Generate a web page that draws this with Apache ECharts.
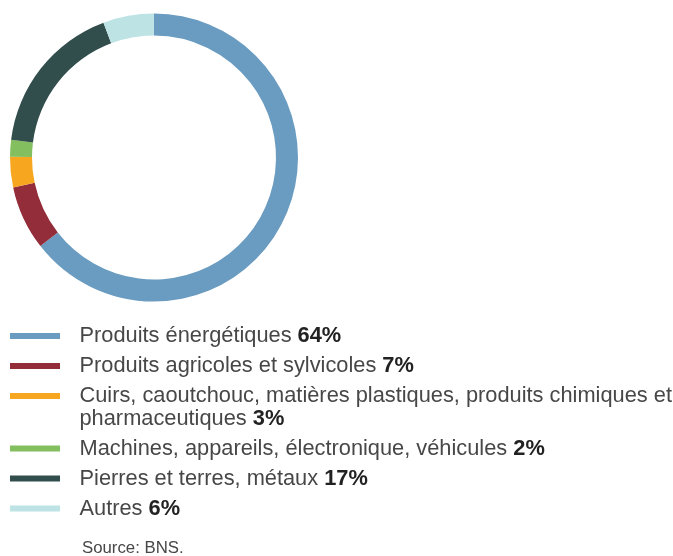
<!DOCTYPE html>
<html>
<head>
<meta charset="utf-8">
<script src="https://cdn.jsdelivr.net/npm/echarts@6/dist/echarts.min.js"></script>
<style>
html,body{margin:0;padding:0;background:#fff;}
#c{width:673px;height:556px;}
</style>
</head>
<body>
<div id="c"></div>
<script>
// Data
const categories = [
  'Produits énergétiques',
  'Produits agricoles et sylvicoles',
  'Cuirs, caoutchouc, matières plastiques, produits chimiques et\npharmaceutiques',
  'Machines, appareils, électronique, véhicules',
  'Pierres et terres, métaux',
  'Autres'
];
const shares = [64.4, 7.2, 3.4, 1.9, 17.3, 5.7];
const shareLabels = ['64%', '7%', '3%', '2%', '17%', '6%'];
const colors = ['#6a9bc0', '#942d3a', '#f6a61f', '#84bf5f', '#324e4c', '#bde3e5'];
const sourceText = 'Source: BNS.';

const FONT = 'Liberation Sans';
const TEXT_COLOR = '#474747';
const FS = 21.8;
const LH = 22.5;

const chart = echarts.init(document.getElementById('c'), null, {renderer: 'canvas'});

// Legend built as graphics
const graphics = [];
let y = 336;
categories.forEach((name, i) => {
  graphics.push({
    type: 'rect',
    shape: {x: 10, y: y - 3, width: 50, height: 6},
    style: {fill: colors[i]},
    silent: true
  });
  const lines = name.split('\n');
  let rich = '';
  lines.forEach((ln, k) => {
    if (k < lines.length - 1) rich += '{n|' + ln + '}\n';
    else rich += '{n|' + ln + ' }{b|' + shareLabels[i] + '}';
  });
  graphics.push({
    type: 'text',
    x: 79.5, y: y,
    silent: true,
    style: {
      text: rich,
      verticalAlign: 'top',
      rich: {
        n: {fontFamily: FONT, fontWeight: 'normal', fontSize: FS, fill: TEXT_COLOR, lineHeight: LH},
        b: {fontFamily: FONT, fontWeight: 'bold', fontSize: FS, fill: '#222', lineHeight: LH}
      },
      y: -LH / 2
    }
  });
  y += 30 + (lines.length - 1) * LH;
});
graphics.push({
  type: 'text', x: 82, y: 548, silent: true,
  style: {text: sourceText, fontFamily: FONT, fontSize: 16.8, fill: TEXT_COLOR, verticalAlign: 'middle'}
});

chart.setOption({
  animation: false,
  color: colors,
  series: [{
    type: 'pie',
    center: [154, 157.5],
    radius: [122, 144],
    startAngle: 90,
    clockwise: true,
    silent: true,
    label: {show: false},
    labelLine: {show: false},
    itemStyle: {borderWidth: 0},
    data: categories.map((c, i) => ({name: c, value: shares[i]}))
  }],
  graphic: graphics
});
</script>
</body>
</html>
